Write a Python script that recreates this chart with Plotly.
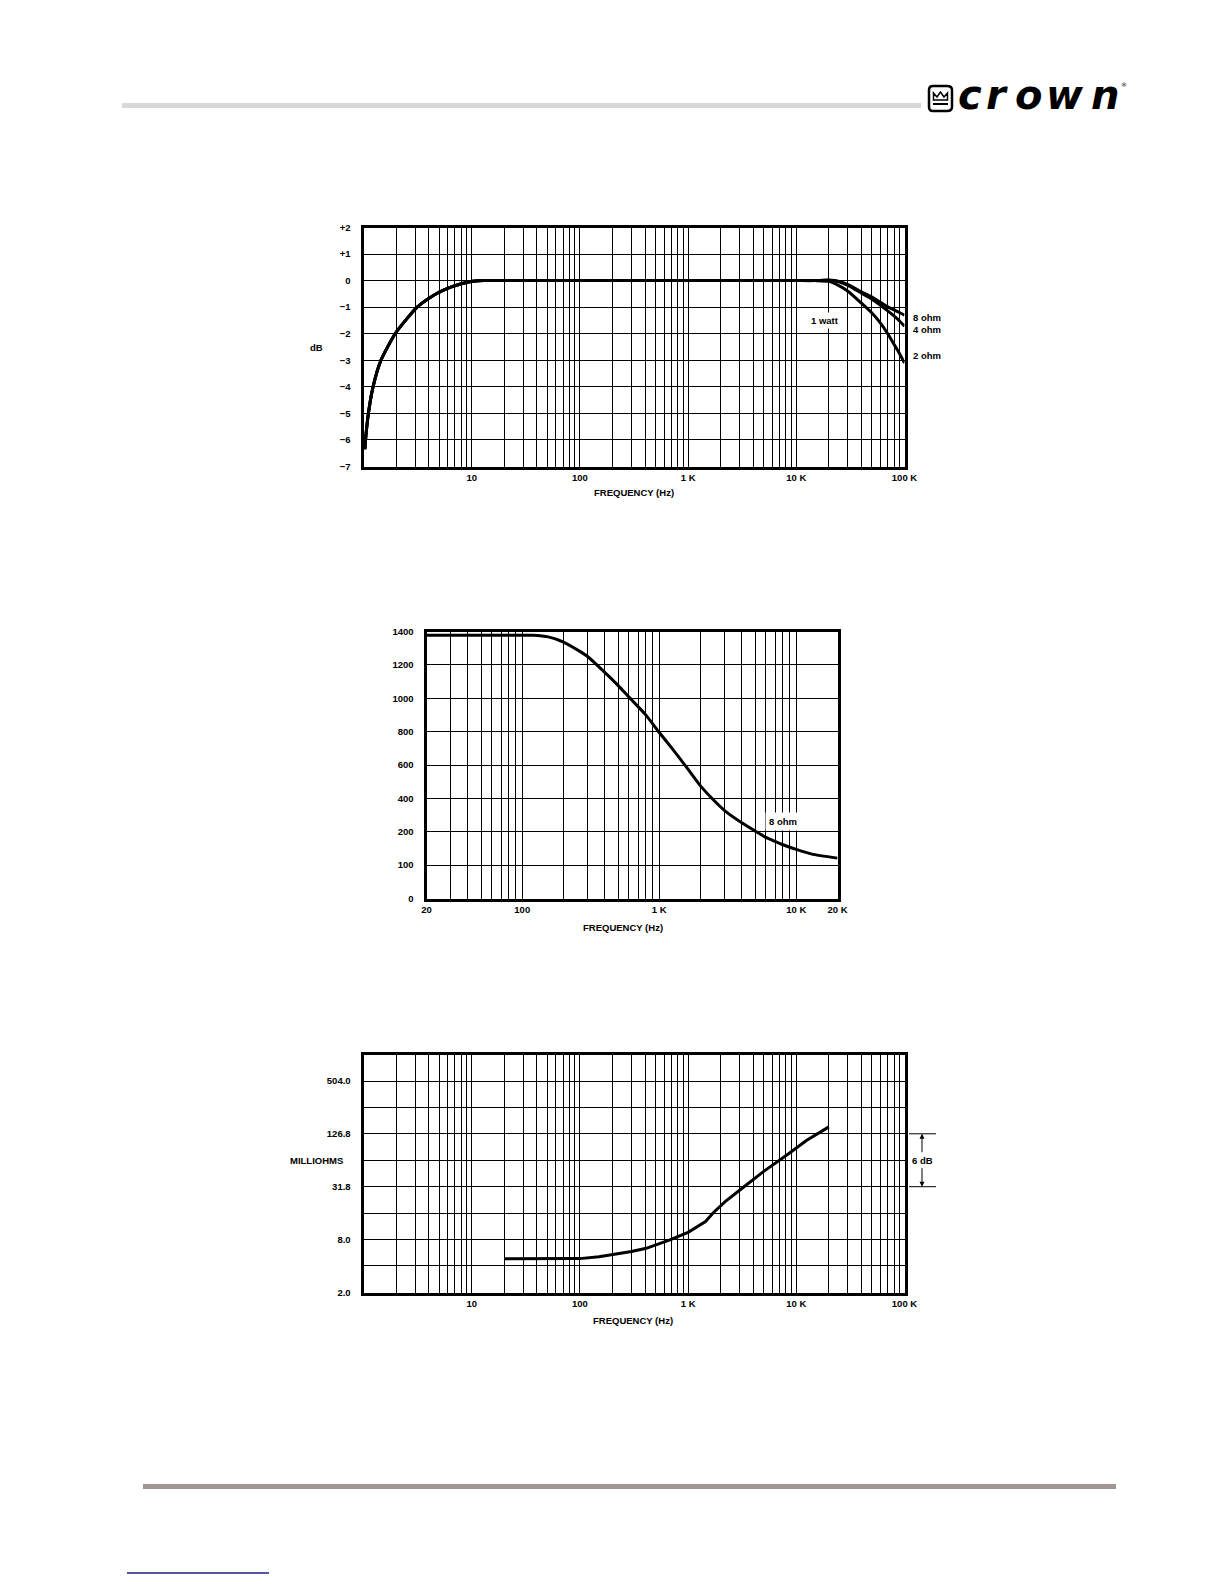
import math
import plotly.graph_objects as go

W, H = 1224, 1584

# ---------------- data ----------------
# Chart 1: frequency response (dB)
fr_freq = [1.03, 1.044, 1.11, 1.225, 1.45, 1.96, 2.5, 3.13, 3.5, 4.0, 4.54,
           5.5, 6.7, 8.0, 9.1, 10.2, 11.5, 13, 100, 1000, 10000, 15000, 20000, 25000,
           30000, 40000, 50000, 60000, 70000, 80000, 90000, 100000]
fr_low = [-6.35, -6.0, -5.0, -4.0, -3.0, -2.0, -1.45, -1.0, -0.84, -0.67, -0.53,
          -0.36, -0.22, -0.12, -0.06, -0.025, -0.005, 0.0, 0.0, 0.0, 0.0]
fr_8ohm_hi = [0.0, 0.02, -0.03, -0.15, -0.42, -0.62, -0.82, -0.99, -1.1, -1.2, -1.3]
fr_4ohm_hi = [0.0, 0.01, -0.05, -0.18, -0.47, -0.7, -0.93, -1.14, -1.33, -1.52, -1.72]
fr_2ohm_hi = [0.0, -0.03, -0.2, -0.4, -0.85, -1.22, -1.6, -2.0, -2.4, -2.75, -3.1]
fr_labels = ["8 ohm", "4 ohm", "2 ohm"]

# Chart 2: power vs frequency (8 ohm)
pw_freq = [20, 50, 100, 120, 155, 200, 267, 300, 400, 500, 600, 800, 1000, 1260, 1580,
           2000, 2450, 3000, 4000, 5000, 6000, 7000, 8000, 10000, 13000, 20000]
pw_watts = [1378, 1378, 1378, 1378, 1368, 1337, 1278, 1250, 1155, 1077, 1007, 899, 795, 692, 587,
            475, 396, 327, 254, 205, 183, 171, 161, 147, 133, 121]
pw_tick_text = ["0", "100", "200", "400", "600", "800", "1000", "1200", "1400"]
pw_tick_vals = [0, 100, 200, 400, 600, 800, 1000, 1200, 1400]

# Chart 3: output impedance (milliohms)
oi_freq = [20, 50, 100, 150, 220, 300, 410, 500, 670, 1000, 1200, 1450, 1700, 2200,
           3200, 5000, 8000, 12500, 20000]
oi_mohm = [4.83, 4.83, 4.85, 5.1, 5.5, 5.85, 6.35, 6.9, 7.86, 9.65, 11.0, 12.8, 16.0,
           21.5, 30.9, 47.5, 71.5, 107, 152]
oi_tick_vals = [2.0, 8.0, 31.8, 126.8, 504.0]
oi_tick_text = ["2.0", "8.0", "31.8", "126.8", "504.0"]
oi_grid_vals = [2.0, 4.0, 8.0, 15.9, 31.8, 63.5, 126.8, 252.0, 504.0]

# x tick labels
dec_tick_vals = [10, 100, 1000, 10000, 100000]
dec_tick_text = ["10", "100", "1 K", "10 K", "100 K"]
pw_x_vals = [20, 100, 1000, 10000, 20000]
pw_x_text = ["20", "100", "1 K", "10 K", "20 K"]
db_tick_vals = [-7, -6, -5, -4, -3, -2, -1, 0, 1, 2]
db_tick_text = ["\u22127", "\u22126", "\u22125", "\u22124", "\u22123", "\u22122", "\u22121", "0", "+1", "+2"]

# ---------------- helpers ----------------
def px(x):
    return x / W

def py(y):
    return 1 - y / H

def pw_pos(v):
    # piecewise scale of the power chart: 0,100,200 then steps of 200
    return v / 100.0 if v <= 200 else 2 + (v - 200) / 200.0

def grid_ticks(vals, labels, lo, hi):
    out_v, out_t = [], []
    lab = dict(zip(vals, labels))
    for e in range(0, 6):
        for m in range(1, 10):
            f = m * 10 ** e
            if lo - 1e-9 <= f <= hi + 1e-9:
                out_v.append(f)
                out_t.append(lab.get(f, ""))
    return out_v, out_t

FONT = dict(family="Liberation Sans, Arial, sans-serif", size=9.5, color="black", weight="bold")

fig = go.Figure()

for lab, hi in zip(fr_labels, [fr_8ohm_hi, fr_4ohm_hi, fr_2ohm_hi]):
    fig.add_trace(go.Scatter(x=fr_freq, y=fr_low + hi, mode="lines", name=lab,
                             line=dict(color="black", width=3, shape="spline", smoothing=0.6),
                             xaxis="x", yaxis="y", showlegend=False, hoverinfo="skip"))
fig.add_trace(go.Scatter(x=pw_freq, y=[pw_pos(v) for v in pw_watts], mode="lines",
                         line=dict(color="black", width=3, shape="spline", smoothing=0.5),
                         xaxis="x2", yaxis="y2", showlegend=False, hoverinfo="skip"))
fig.add_trace(go.Scatter(x=oi_freq, y=oi_mohm, mode="lines",
                         line=dict(color="black", width=3), xaxis="x3", yaxis="y3",
                         showlegend=False, hoverinfo="skip"))

common = dict(showline=True, mirror=True, linecolor="black", linewidth=3,
              showgrid=True, gridcolor="black", gridwidth=1.2, zeroline=False,
              ticks="", tickfont=FONT, fixedrange=True, automargin=False)

x1v, x1t = grid_ticks(dec_tick_vals, dec_tick_text, 1, 100000)
x2v, x2t = grid_ticks(pw_x_vals, pw_x_text, 20, 20000)

# plot frames (centre of border lines), page pixels; inset 1.5px for line width
INS = 1.5
ax1 = (362 + INS, 906 - INS, 226 + INS, 468 - INS)
ax2 = (425 + INS, 839 - INS, 630 + INS, 900 - INS)
ax3 = (362 + INS, 906 - INS, 1053 + INS, 1294 - INS)

fig.update_layout(
    template="none",
    width=W, height=H, margin=dict(l=0, r=0, t=0, b=0, pad=0, autoexpand=False),
    paper_bgcolor="white", plot_bgcolor="white", showlegend=False,
    xaxis=dict(common, type="log", range=[0, 5], domain=[px(ax1[0]), px(ax1[1])],
               tickvals=x1v, ticktext=x1t, anchor="y", ticklabelstandoff=0),
    yaxis=dict(common, range=[-7, 2], domain=[py(ax1[3]), py(ax1[2])],
               tickvals=db_tick_vals, ticktext=db_tick_text, anchor="x", ticklabelstandoff=8),
    xaxis2=dict(common, type="log", range=[math.log10(20), math.log10(20000)],
                domain=[px(ax2[0]), px(ax2[1])], tickvals=x2v, ticktext=x2t,
                anchor="y2", ticklabelstandoff=0),
    yaxis2=dict(common, range=[0, 8], domain=[py(ax2[3]), py(ax2[2])],
                tickvals=[pw_pos(v) for v in pw_tick_vals], ticktext=pw_tick_text,
                anchor="x2", ticklabelstandoff=8),
    xaxis3=dict(common, type="log", range=[0, 5], domain=[px(ax3[0]), px(ax3[1])],
                tickvals=x1v, ticktext=x1t, anchor="y3", ticklabelstandoff=0),
    yaxis3=dict(common, type="log", range=[math.log10(2), math.log10(1008)],
                domain=[py(ax3[3]), py(ax3[2])],
                tickvals=oi_grid_vals,
                ticktext=[oi_tick_text[oi_tick_vals.index(v)] if v in oi_tick_vals else "" for v in oi_grid_vals],
                anchor="x3", ticklabelstandoff=8),
)

ann = []
def text(x, y, t, xanchor="center", yanchor="middle", **kw):
    d = dict(x=px(x), y=py(y), xref="paper", yref="paper", text=t, showarrow=False,
             xanchor=xanchor, yanchor=yanchor, font=FONT)
    d.update(kw)
    ann.append(d)

text(634, 493, "FREQUENCY (Hz)")
text(316, 347, "dB")
text(623, 927, "FREQUENCY (Hz)")
text(633, 1320, "FREQUENCY (Hz)")
text(316, 1160, "MILLIOHMS")

ann.append(dict(x=math.log10(18600), y=-1.5, xref="x", yref="y", text="1 watt", showarrow=False,
                font=FONT, bgcolor="white", borderpad=2))
text(911, 317, "8 ohm", xanchor="left")
text(911, 329, "4 ohm", xanchor="left")
text(911, 356, "2 ohm", xanchor="left")
ann.append(dict(x=math.log10(8000), y=pw_pos(261), xref="x2", yref="y2", text="8 ohm",
                showarrow=False, font=FONT, bgcolor="white", borderpad=3))

# 6 dB bracket
text(922, 1160, "6 dB")
ann.append(dict(x=px(922), y=math.log10(126.8), xref="paper", yref="y3", text="", showarrow=True,
                ax=0, ay=20, arrowhead=2, arrowsize=1, arrowwidth=1, arrowcolor="black"))
ann.append(dict(x=px(922), y=math.log10(31.8), xref="paper", yref="y3", text="", showarrow=True,
                ax=0, ay=-20, arrowhead=2, arrowsize=1, arrowwidth=1, arrowcolor="black"))

# Crown logo letters
LOGO = dict(family="DejaVu Sans, sans-serif", size=40, color="black", weight="bold", style="italic")
for ch, cx in zip("crown", [970, 997, 1028, 1065, 1105]):
    text(cx, 95, ch, font=LOGO)
text(1124, 85, "\u00ae", font=dict(family="DejaVu Sans", size=6, color="black"))

fig.update_layout(annotations=ann)

shapes = []
shapes.append(dict(type="rect", xref="paper", yref="paper", x0=px(122), x1=px(921), y0=py(103),
                   y1=py(108), fillcolor="#d8d8d8", line=dict(width=0)))
shapes.append(dict(type="rect", xref="paper", yref="paper", x0=px(143), x1=px(1116), y0=py(1484),
                   y1=py(1489), fillcolor="#a09694", line=dict(width=0)))
shapes.append(dict(type="line", xref="paper", yref="paper", x0=px(127), x1=px(269), y0=py(1573),
                   y1=py(1573), line=dict(color="#1c1c8a", width=1.5)))
# logo box
shapes.append(dict(type="path", xref="paper", yref="paper",
                   path="M {:.5f},{:.5f} Q {:.5f},{:.5f} {:.5f},{:.5f} L {:.5f},{:.5f} Q {:.5f},{:.5f} {:.5f},{:.5f} L {:.5f},{:.5f} Q {:.5f},{:.5f} {:.5f},{:.5f} L {:.5f},{:.5f} Q {:.5f},{:.5f} {:.5f},{:.5f} Z".format(
                       px(929), py(90), px(929), py(86), px(933), py(86),
                       px(947), py(86), px(952), py(86), px(952), py(90),
                       px(952), py(107), px(952), py(111), px(947), py(111),
                       px(933), py(111), px(929), py(111), px(929), py(107)),
                   line=dict(color="black", width=2.5), fillcolor="white"))
shapes.append(dict(type="path", xref="paper", yref="paper",
                   path="M {:.5f},{:.5f} L {:.5f},{:.5f} L {:.5f},{:.5f} L {:.5f},{:.5f} L {:.5f},{:.5f} L {:.5f},{:.5f} L {:.5f},{:.5f} Z".format(
                       px(933.5), py(100), px(933.5), py(93), px(937), py(97), px(940.5), py(92),
                       px(944), py(97), px(947.5), py(93), px(947.5), py(100)),
                   line=dict(color="black", width=1.5), fillcolor="white"))
shapes.append(dict(type="line", xref="paper", yref="paper", x0=px(933), x1=px(948), y0=py(104),
                   y1=py(104), line=dict(color="black", width=2)))
for v in [126.8, 31.8]:
    shapes.append(dict(type="line", xref="paper", yref="y3", x0=px(909), x1=px(936), y0=v, y1=v,
                       line=dict(color="black", width=1)))
fig.update_layout(shapes=shapes)

fig.write_html("out.html", config={"displayModeBar": False},
               post_script="document.body.style.margin='0';document.body.style.overflow='hidden';")
